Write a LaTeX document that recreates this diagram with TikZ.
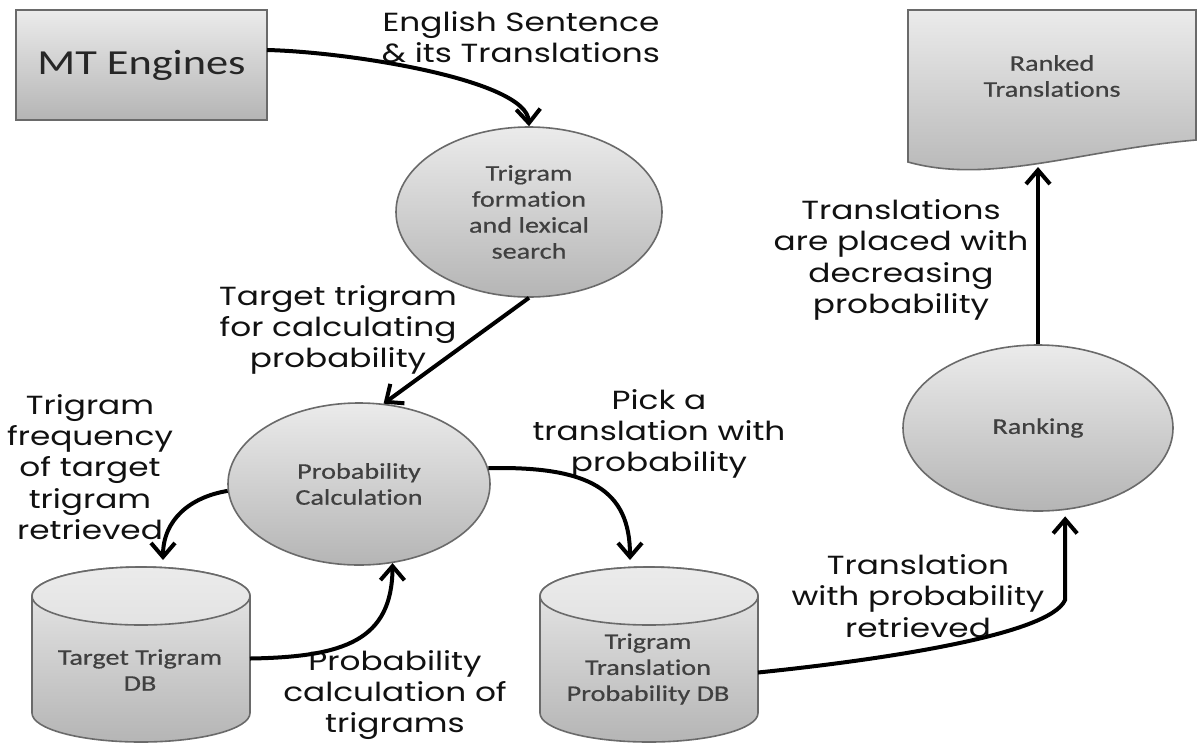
\documentclass[tikz,border=0pt]{standalone}
\usepackage{fontspec}
\usetikzlibrary{arrows.meta,shapes.geometric,calc}
\newfontfamily\labfont[FakeStretch=1.25]{Poppins}
\newfontfamily\boxfont[FakeStretch=1.26,FakeBold=0.5,Ligatures=NoCommon]{Carlito}
\newfontfamily\mtfont[FakeStretch=1.26,Ligatures=NoCommon]{Carlito}
\definecolor{shtop}{HTML}{EBEBEB}
\definecolor{shbot}{HTML}{B5B5B5}
\definecolor{edgec}{HTML}{6A6A6A}
\definecolor{boxtext}{HTML}{404040}
\definecolor{labtext}{HTML}{111111}
\begin{document}
\begin{tikzpicture}[x=0.5pt,y=-0.5pt,
  shapefill/.style={top color=shtop,bottom color=shbot,draw=edgec,line width=0.8pt},
  blob/.style={ellipse,shapefill,inner sep=0pt,font=\boxfont\fontsize{11.2pt}{13pt}\selectfont,text=boxtext,align=center},
  boxtxt/.style={inner sep=0pt,font=\boxfont\fontsize{11.2pt}{13pt}\selectfont,text=boxtext,align=center},
  region/.style={inner sep=0pt,outer sep=0pt,rectangle},
  lab/.style={inner sep=0pt,font=\labfont\fontsize{13.1pt}{15.7pt}\selectfont,text=labtext,align=center},
  flow/.style={line width=2pt,-{Straight Barb[length=7pt,width=12pt]}}
]
\useasboundingbox (0,0) rectangle (1198,745);
\fill[white] (0,0) rectangle (1198,745);

% MT Engines
\node[region,shapefill,minimum width=125.5pt,minimum height=55pt,
      font=\mtfont\fontsize{17.6pt}{20pt}\selectfont,text=black!85] (mt) at (141.5,65) {MT Engines};

% ellipses
\node[blob,minimum width=133pt,minimum height=85pt] (tf) at (529,212) {Trigram\\formation\\and lexical\\search};
\node[blob,minimum width=131pt,minimum height=81pt] (pc) at (359,484) {Probability\\Calculation};
\node[blob,minimum width=135pt,minimum height=83pt] (rk) at (1038,428) {Ranking};

% cylinder 1
\shadedraw[top color=shtop,bottom color=shbot,draw=edgec,line width=0.8pt]
  (32,596) -- (32,713) arc[start angle=180,end angle=0,x radius=109,y radius=29]
  -- (250,596) arc[start angle=0,end angle=-180,x radius=109,y radius=29] -- cycle;
\shadedraw[top color=shtop,bottom color=shtop!85!shbot,draw=edgec,line width=0.8pt]
  (141,596) ellipse[x radius=109,y radius=29];
\node[region,minimum width=109pt,minimum height=87.5pt] (tdb) at (141,654.5) {};
\node[boxtxt] (tdbt) at (140,670) {Target Trigram\\DB};

% cylinder 2
\shadedraw[top color=shtop,bottom color=shbot,draw=edgec,line width=0.8pt]
  (540,596) -- (540,713) arc[start angle=180,end angle=0,x radius=109,y radius=29]
  -- (758,596) arc[start angle=0,end angle=-180,x radius=109,y radius=29] -- cycle;
\shadedraw[top color=shtop,bottom color=shtop!85!shbot,draw=edgec,line width=0.8pt]
  (649,596) ellipse[x radius=109,y radius=29];
\node[region,minimum width=109pt,minimum height=87.5pt] (ttp) at (649,654.5) {};
\node[boxtxt] (ttpt) at (648,669) {Trigram\\Translation\\Probability DB};

% document
\shadedraw[top color=shtop,bottom color=shbot,draw=edgec,line width=0.8pt]
  (908,10) -- (1196,10) -- (1196,140) .. controls (1080,150) and (990,185) .. (908,162) -- cycle;
\node[region,minimum width=144pt,minimum height=76pt] (rtbox) at (1052,86) {};
\node[boxtxt] (rtt) at (1052,76) {Ranked\\Translations};

% labels
\node[lab] (eng) at (521,37) {English Sentence\\\& its Translations};
\node[lab] (tgt) at (338,330) {Target trigram\\for calculating\\probability};
\node[lab] (tfr) at (90,467) {Trigram\\frequency\\of target\\trigram\\retrieved};
\node[lab] (pick) at (659,434) {Pick a\\translation with\\probability};
\node[lab] (pcal) at (395,695) {Probability\\calculation of\\trigrams};
\node[lab] (tpl) at (901,260) {Translations\\are placed with\\decreasing\\probability};
\node[lab] (twp) at (918,596) {Translation\\with probability\\retrieved};

% connectors
\draw[flow] ($(mt.east)+(0,-15)$) .. controls (350,52) and (527,80) .. (tf.north);
\draw[flow] (tf.south) -- (pc.73);
\draw[flow] (pc.183) .. controls (190,497) and (163,520) .. ($(tdb.north)+(22,-7)$);
\draw[flow] ($(tdb.east)+(0,4)$) .. controls (345,657) and (392,640) .. (pc.-67);
\draw[flow] (pc.7) .. controls (590,466) and (630,490) .. ($(ttp.north)+(-19,-7)$);
\draw[flow] ($(ttp.east)+(0,18)$) .. controls (880,660) and (1050,635) .. (1065,600) -- ($(rk.-73)+(2,6)$);
\draw[flow] (rk.north) -- ($(rtbox.south)+(-14,5)$);
\end{tikzpicture}
\end{document}
